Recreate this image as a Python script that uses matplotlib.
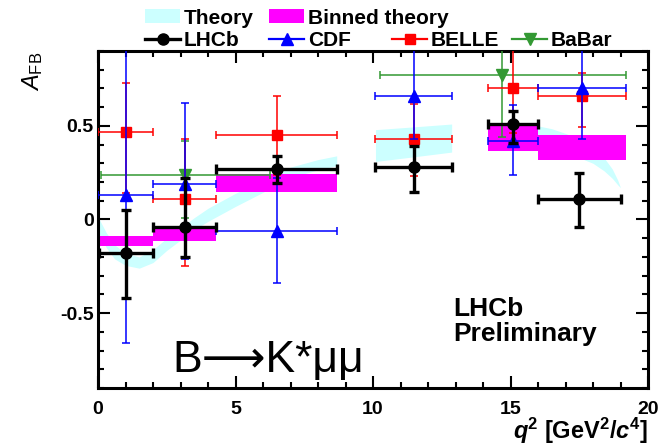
import numpy as np
import matplotlib
matplotlib.use("Agg")
import matplotlib.pyplot as plt
import matplotlib as mpl
from matplotlib.lines import Line2D
from matplotlib.patches import Rectangle
from matplotlib.ticker import MultipleLocator

# ---------------- style ----------------
mpl.rcParams.update({
    "font.family": ["Liberation Sans", "DejaVu Sans"],
    "mathtext.fontset": "custom",
    "mathtext.rm": "Liberation Sans",
    "mathtext.it": "Liberation Sans:italic",
    "mathtext.bf": "Liberation Sans:bold",
    "mathtext.bfit": "Liberation Sans:italic:bold",
    "axes.unicode_minus": False,
})

# ---------------- data ----------------
# LHCb
lhcb_x = [1.0, 3.15, 6.5, 11.5, 15.1, 17.5]
lhcb_lo = [0.05, 2.0, 4.3, 10.09, 14.18, 16.0]
lhcb_hi = [2.0, 4.3, 8.68, 12.86, 16.0, 19.0]
lhcb_y = [-0.18, -0.04, 0.27, 0.28, 0.51, 0.11]
lhcb_up = [0.23, 0.26, 0.07, 0.115, 0.07, 0.14]
lhcb_dn = [0.24, 0.16, 0.075, 0.135, 0.10, 0.15]

# CDF
cdf_x = [1.0, 3.15, 6.5, 11.5, 15.1, 17.6]
cdf_lo = [0.0, 2.0, 4.3, 10.09, 14.18, 16.0]
cdf_hi = [2.0, 4.3, 8.68, 12.86, 16.0, 19.2]
cdf_y = [0.13, 0.19, -0.06, 0.66, 0.42, 0.70]
cdf_up = [0.79, 0.43, 0.28, 0.30, 0.19, 0.27]
cdf_dn = [0.79, 0.40, 0.28, 0.23, 0.18, 0.27]

# BELLE
belle_x = [1.0, 3.15, 6.5, 11.5, 15.1, 17.6]
belle_lo = [0.0, 2.0, 4.3, 10.09, 14.18, 16.0]
belle_hi = [2.0, 4.3, 8.68, 12.86, 16.0, 19.2]
belle_y = [0.47, 0.11, 0.45, 0.43, 0.70, 0.66]
belle_up = [0.26, 0.32, 0.21, 0.185, 0.24, 0.12]
belle_dn = [0.33, 0.36, 0.21, 0.20, 0.24, 0.165]

# BaBar
babar_x = [3.15, 14.7]
babar_lo = [0.1, 10.24]
babar_hi = [6.25, 19.2]
babar_y = [0.24, 0.77]
babar_up = [0.18, 0.33]
babar_dn = [0.23, 0.33]

# binned theory boxes
bin_lo = [0.05, 2.0, 4.3, 14.18, 16.0]
bin_hi = [2.0, 4.3, 8.68, 16.0, 19.2]
bin_ymin = [-0.143, -0.117, 0.147, 0.367, 0.319]
bin_ymax = [-0.086, -0.05, 0.242, 0.50, 0.452]

# theory band, three q2 regions
th1_q = [0.05, 0.3, 0.6, 1.0, 1.5, 2.0, 2.5, 3.0, 3.5, 4.0, 4.5, 5.0, 6.0, 7.0, 8.0, 8.68]
th1_up = [0.0, -0.07, -0.135, -0.18, -0.2, -0.16, -0.10, -0.045, 0.01, 0.06, 0.10, 0.14, 0.21, 0.28, 0.32, 0.34]
th1_dn = [-0.08, -0.15, -0.21, -0.245, -0.26, -0.23, -0.165, -0.11, -0.055, -0.01, 0.03, 0.07, 0.145, 0.225, 0.265, 0.287]

th2_q = [10.09, 11.5, 12.86]
th2_up = [0.48, 0.495, 0.51]
th2_dn = [0.31, 0.335, 0.36]

th3_q = [14.18, 15.0, 16.0, 16.5, 17.0, 17.5, 18.0, 18.4, 18.7, 18.9, 19.0]
th3_up = [0.50, 0.51, 0.50, 0.485, 0.46, 0.43, 0.385, 0.33, 0.27, 0.21, 0.17]
th3_dn = [0.40, 0.40, 0.385, 0.37, 0.35, 0.33, 0.30, 0.26, 0.22, 0.185, 0.17]

THEORY_C = "#ccffff"
BINNED_C = "#ff00ff"
GREEN = "#339933"

W, H = 667, 448

# ---------------- figure ----------------
fig = plt.figure(figsize=(W / 100, H / 100), dpi=100)
ax = fig.add_axes([98 / W, 60 / H, 550 / W, 337 / H])

for q, up, dn in [(th1_q, th1_up, th1_dn), (th2_q, th2_up, th2_dn), (th3_q, th3_up, th3_dn)]:
    ax.fill_between(q, dn, up, color=THEORY_C, lw=0, zorder=1)

lo = np.array(bin_lo)
hi = np.array(bin_hi)
ax.bar(lo, np.array(bin_ymax) - np.array(bin_ymin), width=hi - lo,
       bottom=bin_ymin, align="edge", color=BINNED_C, lw=0, zorder=2)


def draw_points(x, lo, hi, y, up, dn, color, marker, ms, lw, cap, z):
    x = np.array(x)
    xerr = [x - np.array(lo), np.array(hi) - x]
    ax.errorbar(x, y, xerr=xerr, yerr=[dn, up], fmt=marker, color=color,
                mec=color, ms=ms, elinewidth=lw, capsize=cap, capthick=lw,
                zorder=z)


draw_points(babar_x, babar_lo, babar_hi, babar_y, babar_up, babar_dn, GREEN, "v", 8, 1.1, 3, 3)
draw_points(belle_x, belle_lo, belle_hi, belle_y, belle_up, belle_dn, "red", "s", 7, 1.1, 3, 4)
draw_points(cdf_x, cdf_lo, cdf_hi, cdf_y, cdf_up, cdf_dn, "blue", "^", 8, 1.1, 3, 5)
draw_points(lhcb_x, lhcb_lo, lhcb_hi, lhcb_y, lhcb_up, lhcb_dn, "black", "o", 8, 2.4, 3.5, 6)

ax.set_xlim(0, 20)
ax.set_ylim(-0.9, 0.9)
ax.xaxis.set_major_locator(MultipleLocator(5))
ax.xaxis.set_minor_locator(MultipleLocator(1))
ax.yaxis.set_major_locator(MultipleLocator(0.5))
ax.yaxis.set_minor_locator(MultipleLocator(0.1))
ax.set_yticks([-0.5, 0, 0.5])
ax.set_yticklabels(["-0.5", "0", "0.5"])
ax.tick_params(which="both", direction="in", top=True, right=True, width=1.5)
ax.tick_params(which="major", length=8.5, labelsize=14)
ax.tick_params(which="minor", length=4.5)
ax.tick_params(axis="x", pad=9)
ax.tick_params(axis="y", pad=3)
for lab in ax.get_xticklabels() + ax.get_yticklabels():
    lab.set_fontweight("bold")
for sp in ax.spines.values():
    sp.set_linewidth(2.2)

# axis titles
fig.text(33 / W, 1 - 52 / H, r"$A_{\mathrm{FB}}$", rotation=90, ha="center", va="top", fontsize=17)
fig.text(648 / W, 1 - 446 / H,
         r"$\mathbfit{q}^{\mathbf{2}}$ [GeV$^{\mathbf{2}}$/$\mathbfit{c}^{\mathbf{4}}$]",
         ha="right", va="bottom", fontsize=17, fontweight="bold")

# labels inside the frame
ax.text(172 / W, 1 - 372 / H, "B⟶K*μμ", transform=fig.transFigure, fontsize=32,
        ha="left", va="baseline")
ax.text(453 / W, 1 - 297 / H, "LHCb\nPreliminary", transform=fig.transFigure,
        fontsize=19, fontweight="bold", ha="left", va="top", linespacing=1.05)


# ---------------- legend (drawn by hand, ROOT style) ----------------
def fx(px):
    return px / W


def fy(py):
    return 1 - py / H


def leg_box(x0, yc, color, label):
    fig.add_artist(Rectangle((fx(x0), fy(yc + 7)), 35 / W, 14 / H,
                             transform=fig.transFigure, color=color, lw=0))
    fig.text(fx(x0 + 39), fy(yc), label, ha="left", va="center_baseline",
             fontsize=15, fontweight="bold")


def leg_line(x0, yc, color, marker, ms, lw, label):
    fig.add_artist(Line2D([fx(x0), fx(x0 + 35)], [fy(yc), fy(yc)],
                          transform=fig.transFigure, color=color, lw=lw))
    fig.add_artist(Line2D([fx(x0 + 17.5)], [fy(yc)], transform=fig.transFigure,
                          color=color, marker=marker, ms=ms, mec=color, lw=0))
    fig.text(fx(x0 + 39), fy(yc), label, ha="left", va="center_baseline",
             fontsize=15, fontweight="bold")


leg_box(145, 16, THEORY_C, "Theory")
leg_box(269, 16, BINNED_C, "Binned theory")
leg_line(145, 39, "black", "o", 8, 2.4, "LHCb")
leg_line(269, 39, "blue", "^", 8, 1.6, "CDF")
leg_line(392, 39, "red", "s", 7, 1.6, "BELLE")
leg_line(512, 39, GREEN, "v", 8, 1.6, "BaBar")

fig.savefig("out.png", dpi=100)
